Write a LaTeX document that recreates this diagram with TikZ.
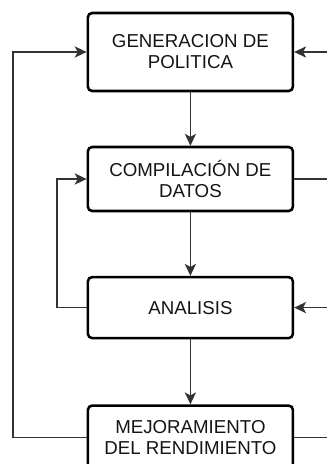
\documentclass[tikz,border=0pt]{standalone}
\usepackage{fontspec}
\setmainfont{Liberation Sans}
\usepackage{tikz}
\usetikzlibrary{arrows.meta, positioning, calc}

\begin{document}
\begin{tikzpicture}[
    font=\fontsize{13.3}{15}\selectfont,
    stagebox/.style={draw=black, rounded corners=3pt, line width=1.8pt, minimum width=5.125cm, align=center, text=black!92, inner sep=0pt},
    arrow/.style={-{Stealth[length=8.5pt, width=8pt, inset=2.2pt]}, line width=1pt, color=black!80},
    link/.style={line width=1pt, color=black!80}
]

\useasboundingbox (0,0) rectangle (8.175,-11.6);

% === STAGES ===
\node[stagebox, minimum height=1.95cm] (gen) at (4.76, -1.3) {GENERACION DE\\POLITICA};
\node[stagebox, minimum height=1.6cm] (comp) at (4.76, -4.475) {COMPILACIÓN DE\\DATOS};
\node[stagebox, minimum height=1.525cm] (ana) at (4.76, -7.69) {ANALISIS};
\node[stagebox, minimum height=1.6cm] (mej) at (4.76, -10.94) {MEJORAMIENTO\\DEL RENDIMIENTO};

% === HELPER POINTS ===
\coordinate (outerL) at (0.325, -6);
\coordinate (innerL) at (1.425, -6);
\coordinate (edgeR) at (8.175, -6);
\coordinate (loopR) at (8.195, -9);

% === MAIN FLOW ===
\draw[arrow] (gen) -- (comp);
\draw[arrow] (comp) -- (ana);
\draw[arrow] (ana) -- (mej);

% === FEEDBACK LOOPS ===
\draw[arrow] (mej.west) -| (outerL) |- (gen.west);
\draw[arrow] (ana.west) -| (innerL) |- (comp.west);
\draw[arrow] (mej.east) -| (loopR) |- (ana.east);
\draw[arrow] (gen.east -| edgeR) -- (gen.east);
\draw[link] (comp.east) -- (comp.east -| edgeR);

\end{tikzpicture}
\end{document}
